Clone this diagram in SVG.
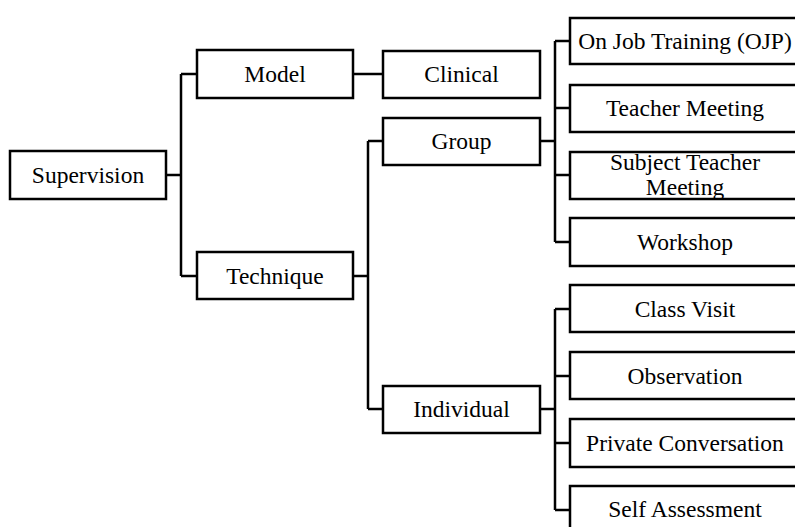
<svg xmlns="http://www.w3.org/2000/svg" width="795" height="527" viewBox="0 0 795 527" font-family="'Liberation Serif', 'DejaVu Serif', serif">
<style>
  rect.box { fill: #ffffff; stroke: #000000; stroke-width: 2.5; }
  text { font-family: 'Liberation Serif', 'DejaVu Serif', serif; font-size: 23.5px; fill: #000000; text-anchor: middle; }
  .conn path { fill: none; stroke: #000000; stroke-width: 2.5; }
</style>
<rect width="795" height="527" fill="#ffffff"/>
<g class="conn" id="connectors">
  <path d="M166,175 H181 M181,74 V276 M181,74 H197 M181,276 H197"/>
  <path d="M353,74 H383"/>
  <path d="M353,276 H368 M368,141 V409 M368,141 H383 M368,409 H383"/>
  <path d="M540,141 H555 M555,41 V242 M555,41 H570 M555,108 H570 M555,175 H570 M555,242 H570"/>
  <path d="M540,409 H555 M555,309 V510 M555,309 H570 M555,376 H570 M555,443 H570 M555,510 H570"/>
</g>
<g id="supervision"><rect class="box" x="10" y="151" width="156" height="48"/><text x="88" y="183">Supervision</text></g>
<g id="model"><rect class="box" x="197" y="50" width="156" height="48"/><text x="275" y="82">Model</text></g>
<g id="technique"><rect class="box" x="197" y="252" width="156" height="47"/><text x="275" y="284">Technique</text></g>
<g id="clinical"><rect class="box" x="383" y="51" width="157" height="47"/><text x="461.5" y="82">Clinical</text></g>
<g id="group"><rect class="box" x="383" y="118" width="157" height="47"/><text x="461.5" y="149">Group</text></g>
<g id="individual"><rect class="box" x="383" y="386" width="157" height="47"/><text x="461.5" y="417">Individual</text></g>
<g id="ojp"><rect class="box" x="570" y="18" width="230" height="46"/><text x="685" y="49">On Job Training (OJP)</text></g>
<g id="teacher-meeting"><rect class="box" x="570" y="85" width="230" height="47"/><text x="685" y="116">Teacher Meeting</text></g>
<g id="subject-teacher-meeting"><rect class="box" x="570" y="152" width="230" height="47"/><text x="685" y="170">Subject Teacher</text><text x="685" y="195">Meeting</text></g>
<g id="workshop"><rect class="box" x="570" y="218" width="230" height="48"/><text x="685" y="250">Workshop</text></g>
<g id="class-visit"><rect class="box" x="570" y="285" width="230" height="47"/><text x="685" y="317">Class Visit</text></g>
<g id="observation"><rect class="box" x="570" y="352" width="230" height="47"/><text x="685" y="384">Observation</text></g>
<g id="private-conversation"><rect class="box" x="570" y="419" width="230" height="48"/><text x="685" y="451">Private Conversation</text></g>
<g id="self-assessment"><rect class="box" x="570" y="486" width="230" height="50"/><text x="685" y="517">Self Assessment</text></g>
</svg>
